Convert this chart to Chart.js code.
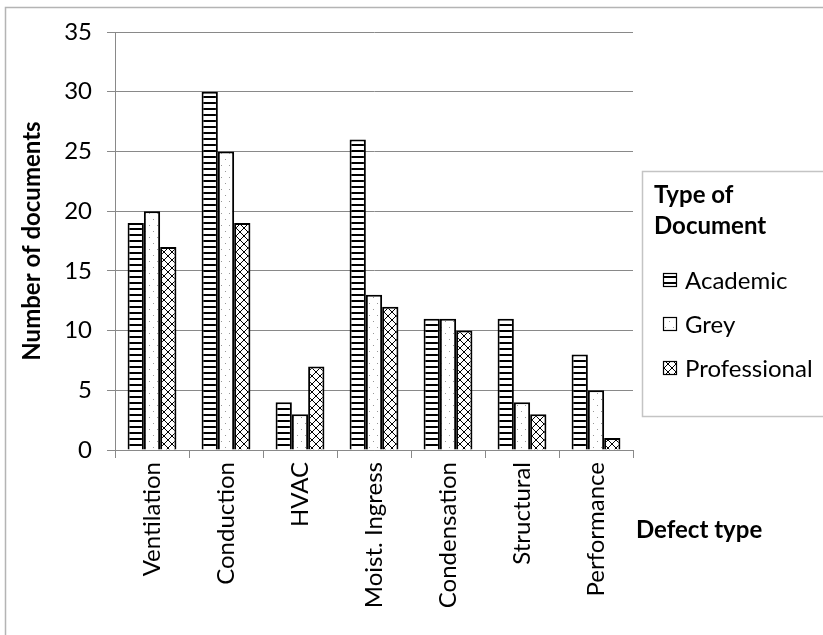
<!DOCTYPE html>
<html>
<head>
<meta charset="utf-8">
<script src="https://cdn.jsdelivr.net/npm/chart.js@4/dist/chart.umd.min.js"></script>
<style>
  html, body { margin: 0; padding: 0; background: #fff; }
  #wrap { width: 823px; height: 635px; position: relative; }
</style>
</head>
<body>
<div id="wrap"><canvas id="c" width="823" height="635"></canvas></div>
<script>
// Documents found per defect type, split by type of document
const categories = ['Ventilation', 'Conduction', 'HVAC', 'Moist. Ingress', 'Condensation', 'Structural', 'Performance'];
const academic = [19, 30, 4, 26, 11, 11, 8];
const grey = [20, 25, 3, 13, 11, 4, 5];
const professional = [17, 19, 7, 12, 10, 3, 1];
const seriesNames = ['Academic', 'Grey', 'Professional'];
const legendTitle = ['Type of', 'Document'];
const yTitle = 'Number of documents';
const xTitle = 'Defect type';
const yMin = 0, yMax = 35, yStep = 5;

const FONT = 'Lato, "Open Sans", sans-serif';
const SIZE = 24;

// Fill patterns for the three series
function tile(w, h, paint) {
  const c = document.createElement('canvas');
  c.width = w; c.height = h;
  const g = c.getContext('2d');
  g.fillStyle = '#fff';
  g.fillRect(0, 0, w, h);
  paint(g);
  return g.createPattern(c, 'repeat');
}
const stripePattern = tile(6, 6, g => { g.fillStyle = '#000'; g.fillRect(0, 0, 6, 2); });
const dotPattern = tile(8, 12, g => { g.fillStyle = '#9a9a9a'; g.fillRect(1, 3, 1, 1); g.fillRect(5, 9, 1, 1); });
const crossPattern = tile(8, 8, g => {
  g.fillStyle = '#000';
  for (let i = 0; i < 8; i++) { g.fillRect(i, i, 1, 1); g.fillRect(7 - i, i, 1, 1); }
});

// Light frame around the whole figure
const frame = {
  id: 'frame',
  beforeDraw(chart) {
    const ctx = chart.ctx;
    ctx.save();
    ctx.fillStyle = '#fff';
    ctx.fillRect(0, 0, chart.width, chart.height);
    ctx.strokeStyle = '#b4b4b4';
    ctx.lineWidth = 1.5;
    ctx.strokeRect(5.5, 7.5, chart.width + 20, chart.height + 20);
    ctx.restore();
  }
};

// Boxed legend and the category axis title placed to the right of the plot
const sideLegend = {
  id: 'sideLegend',
  afterDraw(chart) {
    const ctx = chart.ctx;
    const area = chart.chartArea;
    const x0 = area.right + 9, y0 = 171, w = 182, h = 245;
    ctx.save();
    ctx.strokeStyle = '#c4c4c4';
    ctx.lineWidth = 1.5;
    ctx.strokeRect(x0 + 0.5, y0 + 0.5, w, h);

    ctx.fillStyle = '#000';
    ctx.textBaseline = 'middle';
    ctx.textAlign = 'left';
    ctx.font = 'bold ' + SIZE + 'px ' + FONT;
    legendTitle.forEach((t, i) => ctx.fillText(t, x0 + 12, 195 + i * 31));

    ctx.font = SIZE + 'px ' + FONT;
    chart.data.datasets.forEach((ds, i) => {
      const cy = 280 + i * 44;
      const bx = x0 + 21, by = cy - 7;
      ctx.fillStyle = ds.backgroundColor;
      ctx.fillRect(bx, by, 14, 14);
      ctx.strokeStyle = '#000';
      ctx.lineWidth = 1.2;
      ctx.strokeRect(bx + 0.5, by + 0.5, 13, 13);
      ctx.fillStyle = '#000';
      ctx.fillText(ds.label, x0 + 43, cy + 1);
    });

    ctx.font = 'bold ' + SIZE + 'px ' + FONT;
    ctx.fillText(xTitle, area.right + 3, 530);
    ctx.restore();
  }
};

const GRID = '#898989';

new Chart(document.getElementById('c'), {
  type: 'bar',
  data: {
    labels: categories,
    datasets: [
      { label: seriesNames[0], data: academic, backgroundColor: stripePattern },
      { label: seriesNames[1], data: grey, backgroundColor: dotPattern },
      { label: seriesNames[2], data: professional, backgroundColor: crossPattern }
    ].map(d => Object.assign(d, {
      borderColor: '#000',
      borderWidth: 2,
      categoryPercentage: 0.66,
      barPercentage: 1
    }))
  },
  options: {
    responsive: false,
    animation: false,
    devicePixelRatio: 1,
    layout: { padding: { left: 5, right: 190, top: 32, bottom: 0 } },
    plugins: {
      legend: { display: false },
      tooltip: { enabled: false }
    },
    scales: {
      x: {
        afterFit(scale) { scale.height = 185; },
        grid: { drawOnChartArea: false, drawTicks: true, tickLength: 8, color: GRID, lineWidth: 1 },
        border: { display: true, color: GRID, width: 1 },
        ticks: {
          color: '#000',
          font: { family: FONT, size: SIZE },
          minRotation: 90,
          maxRotation: 90,
          autoSkip: false,
          padding: 4
        }
      },
      y: {
        min: yMin,
        max: yMax,
        afterFit(scale) { scale.width = 110; },
        grid: { color: GRID, lineWidth: 1, drawTicks: true, tickLength: 8 },
        border: { display: true, color: GRID, width: 1 },
        ticks: {
          stepSize: yStep,
          color: '#000',
          font: { family: FONT, size: SIZE },
          padding: 15
        },
        title: {
          display: true,
          text: yTitle,
          color: '#000',
          font: { family: FONT, size: SIZE, weight: 'bold' },
          padding: { top: 13, bottom: 0 }
        }
      }
    }
  },
  plugins: [frame, sideLegend]
});
</script>
</body>
</html>
